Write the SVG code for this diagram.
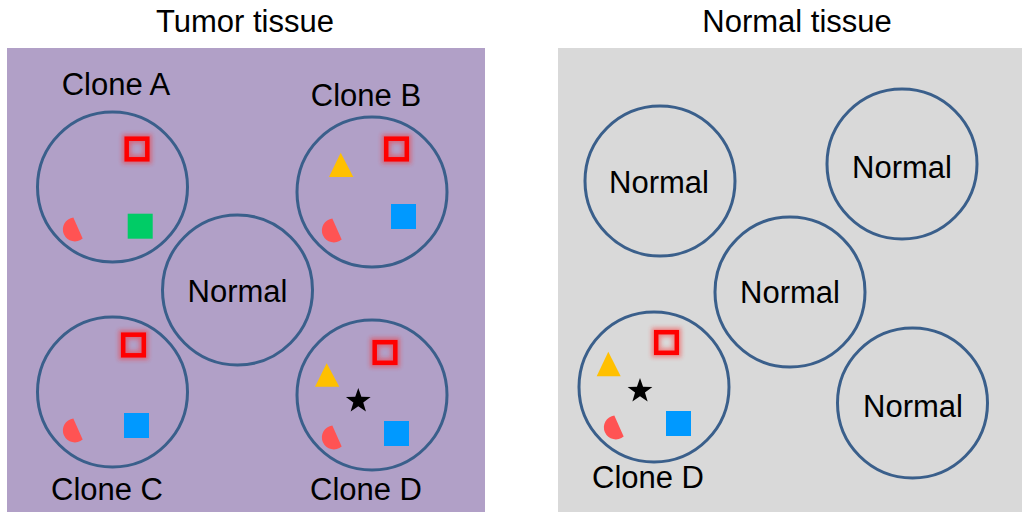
<svg xmlns="http://www.w3.org/2000/svg" width="1022" height="512" viewBox="0 0 1022 512">
<style>
text{font-family:"Liberation Sans",Arial,sans-serif;font-size:31px;fill:#000;text-anchor:middle}
.cell{fill:none;stroke:#3A5F8B;stroke-width:3}
.tri{fill:#FFC000}
.blue{fill:#0099FF}
.green{fill:#00CC66}
.half{fill:#FF5353}
.star{fill:#000}
</style>
<defs>
<filter id="glow" x="-50%" y="-50%" width="200%" height="200%">
<feGaussianBlur in="SourceGraphic" stdDeviation="2.2"/>
</filter>
<g id="redsq">
<rect x="-10.3" y="-10.3" width="20.6" height="20.6" fill="none" stroke="#FF2020" stroke-width="9" opacity="0.45" filter="url(#glow)"/>
<rect x="-10.3" y="-10.3" width="20.6" height="20.6" fill="none" stroke="#FF0000" stroke-width="4.5"/>
</g>
<path id="halfc" d="M0,-11.5 A12,12 0 1,0 0,11.5 Z" transform="rotate(-24)"/>
<path id="star" d="M0,-13 L3.06,-4.21 L12.36,-4.02 L4.95,1.61 L7.64,10.52 L0,5.2 L-7.64,10.52 L-4.95,1.61 L-12.36,-4.02 L-3.06,-4.21 Z"/>
</defs>
<rect x="7" y="48" width="478" height="464" fill="#B1A0C7"/>
<rect x="558" y="48" width="464" height="464" fill="#D9D9D9"/>
<text x="245" y="32">Tumor tissue</text>
<text x="797" y="32">Normal tissue</text>

<g id="cloneA">
<circle class="cell" cx="112.5" cy="187" r="75"/>
<use href="#redsq" x="137" y="149"/>
<rect class="green" x="127.7" y="213.7" width="25" height="25"/>
<use class="half" href="#halfc" x="78" y="228"/>
<text x="116" y="95">Clone A</text>
</g>
<g id="cloneB">
<circle class="cell" cx="372" cy="192" r="75"/>
<use href="#redsq" x="396.5" y="149"/>
<polygon class="tri" points="340.7,152.7 353.3,177 329,177"/>
<rect class="blue" x="391" y="204" width="25" height="25"/>
<use class="half" href="#halfc" x="337" y="229"/>
<text x="366" y="106">Clone B</text>
</g>
<g id="normalT">
<circle class="cell" cx="237.5" cy="290" r="75"/>
<text x="237.5" y="302">Normal</text>
</g>
<g id="cloneC">
<circle class="cell" cx="112.5" cy="392" r="75"/>
<use href="#redsq" x="133.5" y="345"/>
<rect class="blue" x="124" y="413" width="25" height="25"/>
<use class="half" href="#halfc" x="78" y="429"/>
<text x="107" y="500">Clone C</text>
</g>
<g id="cloneD">
<circle class="cell" cx="372" cy="395" r="75"/>
<use href="#redsq" x="385" y="352.5"/>
<polygon class="tri" points="326.7,363.3 339.3,386.7 315,386.7"/>
<use class="star" href="#star" x="358.3" y="401"/>
<rect class="blue" x="384" y="421" width="25" height="25"/>
<use class="half" href="#halfc" x="337" y="436"/>
<text x="366" y="500">Clone D</text>
</g>

<g id="normal1">
<circle class="cell" cx="660" cy="181" r="75"/>
<text x="659" y="193">Normal</text>
</g>
<g id="normal2">
<circle class="cell" cx="902" cy="164" r="75"/>
<text x="902" y="178">Normal</text>
</g>
<g id="normal3">
<circle class="cell" cx="790" cy="292" r="75"/>
<text x="790" y="303">Normal</text>
</g>
<g id="normal4">
<circle class="cell" cx="912.5" cy="403" r="75"/>
<text x="913" y="417">Normal</text>
</g>
<g id="cloneD2">
<circle class="cell" cx="654" cy="387" r="75"/>
<use href="#redsq" x="666.5" y="342.5"/>
<polygon class="tri" points="608.3,351.7 620.7,376.3 596.7,376.3"/>
<use class="star" href="#star" x="640" y="391"/>
<rect class="blue" x="666" y="411" width="25" height="25"/>
<use class="half" href="#halfc" x="619" y="426"/>
<text x="648" y="488">Clone D</text>
</g>
<g id="connectors"/>
</svg>
